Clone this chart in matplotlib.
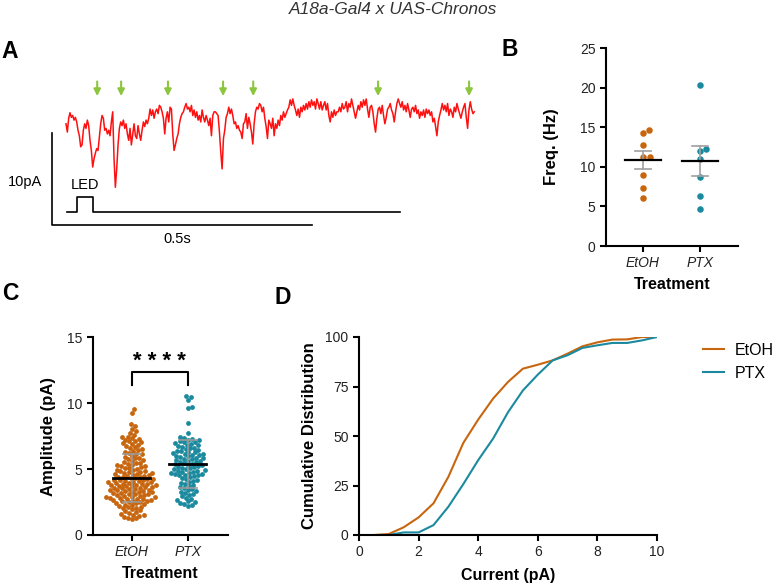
import matplotlib
matplotlib.use("Agg")
import matplotlib.pyplot as plt
import numpy as np

plt.rcParams['font.family'] = ['Liberation Sans', 'DejaVu Sans']

# ---- data ----
title = "A18a-Gal4 x UAS-Chronos"
groups = ["EtOH", "PTX"]

# panel A: example current trace (pA), sampled evenly over ~0.785 s
trace_pa = [
    -1.5, -2.4, -0.9, -0.3, -0.8, -0.6, -1.1, -0.8, -1.3, -2.2, -2.8, -4.0, -3.8, -2.2, -1.5, -2.0,
    -1.1, -1.7, -3.3, -4.4, -6.2, -5.3, -4.7, -4.2, -4.4, -2.9, -1.5, -0.6, -0.9, -2.2, -2.0, -2.6,
    -2.2, -2.8, -1.3, -0.2, -5.3, -8.4, -6.4, -3.8, -2.0, -1.3, -1.7, -1.1, -2.0, -1.5, -2.6, -3.3,
    -2.0, -3.8, -2.6, -1.5, -2.8, -3.1, -1.7, -2.6, -3.3, -2.2, -1.3, -1.8, -1.1, -1.5, -0.9, 0.1,
    -0.6, 0.0, -0.9, -0.2, 0.1, -0.4, 0.5, 0.3, -0.2, -0.9, -2.6, -0.9, -0.2, -1.3, 0.3, 0.1,
    -2.6, -4.4, -3.8, -3.1, -2.6, -1.5, -0.8, -0.4, -0.2, 0.3, 0.7, 0.1, 0.3, -0.2, 0.5, -0.6,
    0.0, -0.8, -0.2, -1.1, -0.6,
    -1.3, 0.0, -0.8, -1.3, -0.6, -1.1, -1.7, -0.9, -2.8, -0.6, -0.2, -0.2, -0.4, -0.6, -2.4, -4.6,
    -6.4, -3.1, -2.2, -0.8, -0.4, 0.3, -0.4, 0.1, -0.6, -1.5, -1.3, -2.0, -1.7, -2.2, -2.4, -3.1,
    -1.5, -1.3, -0.4, -2.0, -0.8, -1.5, -2.4, -3.7, -1.5, -0.2, 0.3, 0.1, 0.7, 0.5, -0.2, 0.3,
    -0.9, -1.8, -3.1, -1.1, -1.5, -2.0, -0.9, -2.8, -1.5, -2.0, -1.1, -1.7, -0.6, -1.1, -0.2, -0.8,
    -0.4, 0.0, 0.3, 1.1, 0.5, 1.2, 0.5, 0.0, -0.6, 0.1, -0.8, 0.3, -0.2, 0.5, 0.0, 0.7,
    0.1, 0.9, 0.3, 1.1, 0.5, 0.9, 0.1, 1.2, 0.7, 0.1, 0.9, 0.0, 0.5, 0.9, 0.0, 0.7,
    -0.6, -1.3, -0.2, -0.8, 0.0, -0.6, -0.2,
    -0.2, 0.3, -0.2, 0.7, 0.1, 0.3, 0.9, -0.2, 0.7, 0.3, 1.2, 0.5, -0.2, -0.9, -0.2, 0.5,
    0.0, 0.9, 0.3, 1.1, 0.5, 1.2, 0.1, -0.8, 0.3, 0.5, -0.2, -1.5, -2.4, -0.9, 0.1, 0.3,
    -0.4, 0.5, -0.6, -1.5, -0.8, 0.1, 0.3, 0.7, 0.0, -0.4, -1.3, -0.2, 0.7, 1.2, 0.7, 0.3,
    0.9, 0.0, 0.5, -0.2, 0.7, 0.0, -0.8, 0.1, 0.3, -0.2, 0.5, -0.4, 0.0, -0.9, -0.2, -0.6,
    0.0, -0.8, 0.1, -0.4, 0.0, -0.6, -0.2, -1.3, -0.9, -1.8, -2.8, -1.3, -0.6, 0.0, 0.7, 0.0,
    0.5, -0.2, 0.7, -0.6, 0.1, -0.2, -0.8, 0.3, -0.2, 0.7, 0.1, -0.4, -0.9, -0.2, 0.3, 0.7,
    -0.8, -2.0, 0.0, 0.9, 0.1, -0.4, -0.2,
]
trace_dur = 0.785          # s
event_times = [0.060, 0.106, 0.196, 0.302, 0.360, 0.600, 0.775]   # s (green arrows)
led_on, led_off, led_end = 0.021, 0.052, 0.642                      # s

# panel B: event frequency per cell (Hz)
freq_etoh = [14.3, 14.7, 12.7, 11.3, 11.3, 9.0, 7.3, 6.0]
freq_ptx = [20.3, 12.0, 12.3, 11.0, 8.7, 6.3, 4.7]

# panel C: event amplitudes (pA)
amp_etoh = [
    1.18, 1.27, 1.31, 1.38, 1.44, 1.49, 1.53, 1.61, 1.66, 1.72, 1.79, 1.86, 1.94,
    2.02, 2.07, 2.12, 2.16, 2.22, 2.27, 2.31, 2.34, 2.39, 2.45, 2.48,
    2.51, 2.55, 2.57, 2.61, 2.63, 2.67, 2.70, 2.74, 2.76, 2.79, 2.83, 2.85, 2.88, 2.92, 2.94, 2.98,
    3.02, 3.04, 3.08, 3.12, 3.14, 3.18, 3.20, 3.23, 3.27, 3.29, 3.31, 3.36, 3.38, 3.41, 3.45, 3.48,
    3.52, 3.55, 3.58, 3.60, 3.63, 3.65, 3.69, 3.71, 3.74, 3.78, 3.80, 3.82, 3.86, 3.88, 3.90, 3.93,
    3.97, 3.99,
    4.02, 4.05, 4.09, 4.11, 4.14, 4.18, 4.20, 4.24, 4.27, 4.30, 4.33, 4.37, 4.40, 4.42, 4.46, 4.49,
    4.53, 4.58, 4.60, 4.65, 4.68, 4.71, 4.76, 4.81, 4.84, 4.87, 4.93, 4.96,
    5.03, 5.08, 5.12, 5.15, 5.21, 5.24, 5.30, 5.33, 5.38, 5.44, 5.47,
    5.55, 5.63, 5.68, 5.73, 5.82, 5.86, 5.94,
    6.03, 6.11, 6.16, 6.25, 6.30, 6.39, 6.44,
    6.52, 6.61, 6.67, 6.76, 6.81, 6.90, 6.95,
    7.03, 7.10, 7.14, 7.22, 7.27, 7.35, 7.41, 7.46,
    7.62, 7.74, 7.91, 8.08, 8.28, 8.42, 9.28, 9.56,
]
amp_ptx = [
    2.20, 2.29, 2.34, 2.42, 2.47, 2.56, 2.62, 2.73, 2.83, 2.94,
    3.04, 3.12, 3.18, 3.27, 3.33, 3.41, 3.46, 3.56, 3.62, 3.72, 3.79, 3.89, 3.95,
    4.04, 4.12, 4.18, 4.27, 4.33, 4.42, 4.48,
    4.52, 4.56, 4.58, 4.63, 4.66, 4.71, 4.73, 4.78, 4.80, 4.86, 4.89, 4.92, 4.97,
    5.02, 5.07, 5.10, 5.16, 5.19, 5.25, 5.28, 5.32, 5.38, 5.41, 5.47,
    5.52, 5.57, 5.60, 5.64, 5.70, 5.73, 5.79, 5.82, 5.86, 5.92, 5.96,
    6.02, 6.07, 6.10, 6.15, 6.18, 6.23, 6.28, 6.31, 6.36, 6.40, 6.46,
    6.53, 6.59, 6.63, 6.69, 6.74, 6.80, 6.84, 6.91, 6.96,
    7.03, 7.09, 7.13, 7.20, 7.24, 7.32, 7.37, 7.45,
    7.72, 8.48, 9.62, 9.68, 10.25, 10.50, 10.55,
]

# panel D: cumulative distribution (%) of amplitudes
cdf_x_etoh = [0.5, 1.0, 1.5, 2.0, 2.5, 3.0, 3.5, 4.0, 4.5, 5.0, 5.5, 6.0, 6.5, 7.0, 7.5, 8.0, 8.5, 9.0, 9.5, 10.0]
cdf_etoh = [0, 0.5, 3.9, 8.9, 16, 29.4, 46.5, 58.3, 68.9, 77.3, 84, 86, 88.2, 91.6, 95.3, 97.3, 98.7, 98.8, 100, 100]
cdf_x_ptx = [1.0, 1.5, 2.0, 2.5, 3.0, 3.5, 4.0, 4.5, 5.0, 5.5, 6.0, 6.5, 7.0, 7.5, 8.0, 8.5, 9.0, 9.5, 10.0]
cdf_ptx = [0, 1.3, 1.3, 5, 14.3, 25.7, 37.8, 48.7, 62, 73, 81, 88.2, 90.8, 94.5, 95.8, 97, 97, 98.3, 100]

c_etoh = "#c8660f"
c_ptx = "#1b8a9f"
W, H = 775, 587


def fbox(x0, y0, x1, y1):
    # pixel box (top-left origin) -> figure fraction rect
    return [x0 / W, 1 - y1 / H, (x1 - x0) / W, (y1 - y0) / H]


def swarm(vals, d, ppx, ppy):
    vals = np.asarray(vals, float)
    xs = np.zeros(len(vals))
    placed = []
    for i in np.argsort(vals):
        y = vals[i] * ppy
        cands = [0.0]
        for px, py in placed:
            dy = y - py
            if abs(dy) < d:
                dx = np.sqrt(d * d - dy * dy)
                cands += [px + dx, px - dx]
        cands.sort(key=abs)
        for c in cands:
            if all((c - px) ** 2 + (y - py) ** 2 >= d * d - 1e-6 for px, py in placed):
                xs[i] = c
                break
        placed.append((xs[i], y))
    return xs / ppx


def style_axes(ax):
    for s in ["top", "right"]:
        ax.spines[s].set_visible(False)
    for s in ["left", "bottom"]:
        ax.spines[s].set_linewidth(1.5)
    ax.tick_params(length=4, width=1.5, labelsize=10, labelcolor="#222")


fig = plt.figure(figsize=(7.75, 5.87), dpi=100)
fig.text(0.507, 1 - 9 / H, title, ha="center", va="center", style="italic", fontsize=12.5, color="#333")
for lab, (px, py) in zip("ABCD", [(10, 51), (510, 50), (10, 293), (283, 298)]):
    fig.text(px / W, 1 - py / H, lab, ha="center", va="center", fontsize=16.5, fontweight="bold")

# ---- A ----
axA = fig.add_axes(fbox(40, 75, 480, 245))
axA.set_xlim(-0.05, 0.796)
axA.set_ylim(-14.67, 3.80)
axA.axis("off")
t = np.linspace(0, trace_dur, len(trace_pa))
axA.plot(t, trace_pa, color="#ff1010", lw=1.1)
for et in event_times:
    axA.annotate("", xy=(et, 1.2), xytext=(et, 3.4),
                 arrowprops=dict(arrowstyle="-|>", color="#8cc63f", lw=1.5, mutation_scale=10))
axA.plot([-0.027, -0.027, 0.473], [-2.5, -12.5, -12.5], color="black", lw=1.2)
axA.plot([0.002, led_on, led_on, led_off, led_off, led_end],
         [-11.09, -11.09, -9.46, -9.46, -11.09, -11.09], color="black", lw=1.2)
axA.text(0.037, -8.15, "LED", ha="center", va="center", fontsize=10.5)
axA.text(-0.079, -7.8, "10pA", ha="center", va="center", fontsize=10.5)
axA.text(0.213, -14.0, "0.5s", ha="center", va="center", fontsize=10.5)

# ---- B ----
axB = fig.add_axes(fbox(606, 48, 738, 246))
style_axes(axB)
axB.set_xlim(-0.65, 1.67)
axB.set_ylim(0, 25)
axB.set_yticks([0, 5, 10, 15, 20, 25])
for k, (vals, col) in enumerate([(freq_etoh, c_etoh), (freq_ptx, c_ptx)]):
    v = np.array(vals)
    xo = swarm(v, 7.0, 57.0, 7.92)
    axB.scatter(k + xo, v, s=22, color=col, zorder=3, linewidths=0)
    m = v.mean()
    sem = v.std(ddof=1) / np.sqrt(len(v))
    axB.plot([k, k], [m - sem, m + sem], color="#a0a0a0", lw=1.2, zorder=4)
    for yy in (m - sem, m + sem):
        axB.plot([k - 0.14, k + 0.14], [yy, yy], color="#a0a0a0", lw=1.2, zorder=4)
    axB.plot([k - 0.31, k + 0.31], [m, m], color="black", lw=1.6, zorder=5)
axB.set_xticks([0, 1])
axB.set_xticklabels(groups, style="italic")
axB.set_ylabel("Freq. (Hz)", fontsize=12, fontweight="bold", labelpad=15)
axB.set_xlabel("Treatment", fontsize=11.5, fontweight="bold", labelpad=5)

# ---- C ----
axC = fig.add_axes(fbox(92.7, 337.3, 227.7, 535))
style_axes(axC)
axC.set_xlim(-0.70, 1.71)
axC.set_ylim(0, 15)
axC.set_yticks([0, 5, 10, 15])
for k, (vals, col) in enumerate([(amp_etoh, c_etoh), (amp_ptx, c_ptx)]):
    v = np.array(vals)
    xo = swarm(v, 4.2, 56.0, 13.18)
    axC.scatter(k + xo, v, s=12, color=col, zorder=3, linewidths=0)
    m = v.mean()
    sd = v.std(ddof=1)
    axC.plot([k, k], [m - sd, m + sd], color="#9a9a9a", lw=1.2, zorder=4)
    for yy in (m - sd, m + sd):
        axC.plot([k - 0.16, k + 0.16], [yy, yy], color="#9a9a9a", lw=1.2, zorder=4)
    axC.plot([k - 0.33, k + 0.33], [m, m], color="black", lw=2.0, zorder=5)
axC.plot([0, 0, 1, 1], [11.4, 12.35, 12.35, 11.4], color="black", lw=1.5)
axC.text(0.5, 13.2, "* * * *", ha="center", va="center", fontsize=16, fontweight="bold")
axC.set_xticks([0, 1])
axC.set_xticklabels(groups, style="italic")
axC.set_ylabel("Amplitude (pA)", fontsize=12, fontweight="bold", labelpad=8)
axC.set_xlabel("Treatment", fontsize=11.5, fontweight="bold", labelpad=5)

# ---- D ----
axD = fig.add_axes(fbox(359, 337, 657, 535))
style_axes(axD)
axD.plot(cdf_x_etoh, cdf_etoh, color=c_etoh, lw=1.5, label="EtOH")
axD.plot(cdf_x_ptx, cdf_ptx, color=c_ptx, lw=1.5, label="PTX")
axD.set_xlim(0, 10)
axD.set_ylim(0, 100)
axD.set_xticks([0, 2, 4, 6, 8, 10])
axD.set_yticks([0, 25, 50, 75, 100])
axD.set_xlabel("Current (pA)", fontsize=11.5, fontweight="bold", labelpad=6)
axD.set_ylabel("Cumulative Distribution", fontsize=12, fontweight="bold", labelpad=6)
axD.legend(loc="upper left", bbox_to_anchor=(703 / W, 1 - 343 / H), bbox_transform=fig.transFigure,
           frameon=False, fontsize=11.5, handlelength=1.3, handletextpad=0.7, labelspacing=0.5,
           borderpad=0, borderaxespad=0)

fig.savefig("out.png", dpi=100)
